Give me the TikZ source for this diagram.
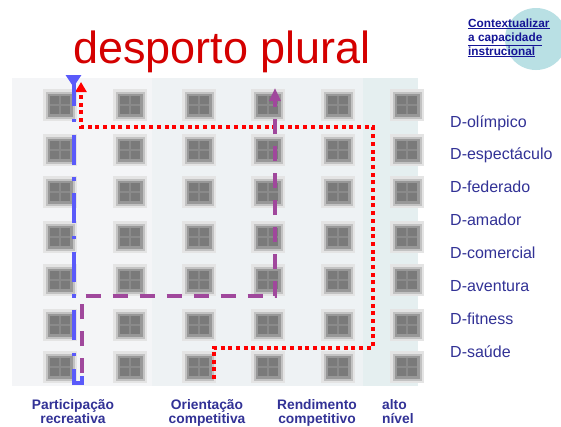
\documentclass[tikz,border=0pt]{standalone}
\usepackage{fontspec}
\setmainfont{Liberation Sans}
\usetikzlibrary{arrows.meta}
\definecolor{titlered}{RGB}{212,0,0}
\definecolor{labblue}{RGB}{50,50,150}
\definecolor{linkblue}{RGB}{20,20,150}
\definecolor{circlefill}{RGB}{185,224,228}
\definecolor{blueline}{RGB}{90,90,250}
\definecolor{purpleline}{RGB}{160,72,156}
\definecolor{dotred}{RGB}{255,0,0}
\definecolor{panelA}{RGB}{244,245,247}
\definecolor{panelB}{RGB}{238,242,244}
\definecolor{panelC}{RGB}{229,239,240}
\definecolor{sqA}{RGB}{228,228,228}
\definecolor{sqB}{RGB}{194,194,194}
\definecolor{sqC}{RGB}{152,152,152}
\definecolor{sqD}{RGB}{122,122,122}
\definecolor{sqE}{RGB}{138,138,138}
\tikzset{
  titletext/.style={font=\fontsize{45}{50}\selectfont, text=titlered, inner sep=0pt, anchor=base west},
  dlab/.style={font=\fontsize{16}{18}\selectfont, text=labblue, inner sep=0pt, anchor=base west},
  botlab/.style={font=\fontsize{13.8}{14}\selectfont\bfseries, text=labblue, inner sep=0pt, align=center, anchor=base},
  linktext/.style={font=\fontsize{11.8}{14}\selectfont\bfseries, text=linkblue, inner sep=0pt, align=left, anchor=base west},
  redpath/.style={draw=dotred, line width=4pt, dash pattern=on 4pt off 3.7pt, -{Triangle[width=11pt,length=10pt]}},
  purplepath/.style={draw=purpleline, line width=4pt, dash pattern=on 15pt off 12pt, -{Triangle[width=11pt,length=13pt]}},
  bluepath/.style={draw=blueline, line width=4pt, dash pattern=on 30pt off 12.5pt on 3.5pt off 12.5pt, -{Triangle[reversed,width=15pt,length=12pt]}}
}
\begin{document}
\begin{tikzpicture}[x=1pt,y=-1pt]
\useasboundingbox (0,0) rectangle (561,426);
\fill[white] (0,0) rectangle (561,426);
% panel
\fill[panelA] (12,78) rectangle (152,386);
\fill[panelB] (152,78) rectangle (363,386);
\fill[panelC] (363,78) rectangle (418,386);
% grid of blurred squares
\foreach \x in {60,130,199,268,338,407}{
  \foreach \y in {105,150,192,237,280,325,367}{
    \fill[sqA] (\x-17,\y-16) rectangle (\x+17,\y+16);
    \fill[sqB] (\x-14.5,\y-13.5) rectangle (\x+14.5,\y+13.5);
    \fill[sqC] (\x-12.5,\y-11.5) rectangle (\x+12.5,\y+11.5);
    \fill[sqD] (\x-10,\y-9) rectangle (\x+10,\y+9);
    \fill[sqE] (\x-0.8,\y-9) rectangle (\x+0.8,\y+9);
    \fill[sqE] (\x-10,\y-0.6) rectangle (\x+10,\y+0.6);
  }
}
% circle top right
\fill[circlefill] (536,39) circle (31);
\node[linktext] (link) at (468,55) {\underline{Contextualizar}\\\underline{a capacidade}\\\underline{instrucional}};
% title
\node[titletext] (title) at (73,63) {desporto plural};
% right labels
\node[dlab] (d1) at (450,127) {D-olímpico};
\node[dlab] (d2) at (450,159.9) {D-espectáculo};
\node[dlab] (d3) at (450,192.7) {D-federado};
\node[dlab] (d4) at (450,225.6) {D-amador};
\node[dlab] (d5) at (450,258.4) {D-comercial};
\node[dlab] (d6) at (450,291.3) {D-aventura};
\node[dlab] (d7) at (450,324.1) {D-fitness};
\node[dlab] (d8) at (450,357) {D-saúde};
% bottom labels
\node[botlab] (l1) at (73,423) {Participação\\recreativa};
\node[botlab] (l2) at (207,423) {Orientação\\competitiva};
\node[botlab] (l3) at (317,423) {Rendimento\\competitivo};
\node[botlab, align=left, anchor=base west] (l4) at (382,423) {alto\\nível};
% path coordinates
\coordinate (r0) at (213.5,379);
\coordinate (r1) at (213.5,347.5);
\coordinate (r2) at (373,347.5);
\coordinate (r3) at (373,127);
\coordinate (r4) at (81,127);
\coordinate (r5) at (81,82);
\coordinate (p0) at (82,373);
\coordinate (p1) at (82,295.5);
\coordinate (p2) at (275,295.5);
\coordinate (p3) at (275,88);
\coordinate (b0) at (82,376);
\coordinate (b1) at (82,383);
\coordinate (b2) at (73.5,383);
\coordinate (b3) at (73.5,75);
\draw[redpath] (r0) -- (r1) -- (r2) -- (r3) -- (r4) -- (r5);
\draw[purplepath] (p0) -- (p1) -- (p2) -- (p3);
\draw[bluepath] (b0) -- (b1) -- (b2) -- (b3);
\end{tikzpicture}
\end{document}
